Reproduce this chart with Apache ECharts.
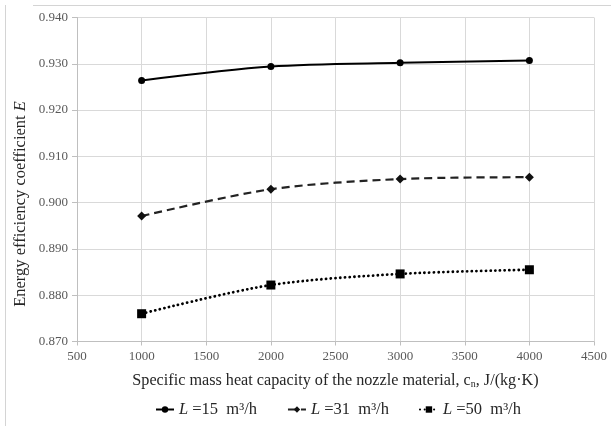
<!DOCTYPE html>
<html>
<head>
<meta charset="utf-8">
<script src="https://cdn.jsdelivr.net/npm/echarts@6/dist/echarts.min.js"></script>
<style>
  html, body { margin: 0; padding: 0; background: #fff; }
  #chart { width: 611px; height: 426px; }
</style>
</head>
<body>
<div id="chart"></div>
<script>
// Specific mass heat capacity of the nozzle material, J/(kg·K)
const capacities = [1000, 2000, 3000, 4000];
// Energy efficiency coefficient E for each air flow rate L
const effL15 = [0.9264, 0.9294, 0.9302, 0.9307];
const effL31 = [0.8971, 0.9029, 0.9051, 0.9055];
const effL50 = [0.8760, 0.8822, 0.8846, 0.8855];
const flowLabels = ['15', '31', '50'];

const xTicks = { min: 500, max: 4500, step: 500 };
const yTicks = { min: 0.870, max: 0.940, step: 0.010 };

const serif = '"Liberation Serif", "Times New Roman", serif';
const ink = '#262626';

function pairs(values) {
  return capacities.map((c, i) => [c, values[i]]);
}

const seriesNames = flowLabels.map(v => 'L' + v);

const chart = echarts.init(document.getElementById('chart'), null, { renderer: 'canvas' });

chart.setOption({
  backgroundColor: '#ffffff',
  animation: false,
  graphic: [
    // outer frame edges
    { type: 'line', shape: { x1: 5.5, y1: 5, x2: 5.5, y2: 426 }, style: { stroke: '#d4d4d4', lineWidth: 1 } },
    { type: 'line', shape: { x1: 33, y1: 5.5, x2: 611, y2: 5.5 }, style: { stroke: '#d4d4d4', lineWidth: 1 } },
    // vertical axis title
    {
      type: 'text', x: 21, y: 204, rotation: Math.PI / 2,
      style: {
        text: 'Energy efficiency coefficient {i|E}',
        align: 'center', verticalAlign: 'middle',
        font: '16.5px ' + serif, fill: ink,
        rich: { i: { fontFamily: serif, fontSize: 16.5, fontStyle: 'italic', fill: ink, color: ink } }
      }
    }
  ],
  grid: { left: 77, right: 17, top: 17.5, bottom: 84.5, containLabel: false },
  xAxis: {
    type: 'value',
    min: xTicks.min, max: xTicks.max, interval: xTicks.step,
    axisLine: { show: true, lineStyle: { color: '#bfbfbf', width: 1 } },
    axisTick: { show: true, length: 4, lineStyle: { color: '#bfbfbf' } },
    axisLabel: { color: '#595959', fontFamily: serif, fontSize: 13, margin: 9, formatter: v => String(v) },
    splitLine: { show: true, lineStyle: { color: '#d9d9d9', width: 1 } },
    name: 'Specific mass heat capacity of the nozzle material, c{sub|n}, J/(kg·K)',
    nameLocation: 'middle',
    nameGap: 31,
    nameTextStyle: {
      color: ink, fontFamily: serif, fontSize: 16.2,
      rich: { sub: { fontFamily: serif, fontSize: 10, color: ink, verticalAlign: 'bottom', padding: [7, 0, 0, 0] } }
    }
  },
  yAxis: {
    type: 'value',
    min: yTicks.min, max: yTicks.max, interval: yTicks.step,
    axisLine: { show: true, lineStyle: { color: '#bfbfbf', width: 1 } },
    axisTick: { show: true, length: 5, lineStyle: { color: '#bfbfbf' } },
    axisLabel: { color: '#595959', fontFamily: serif, fontSize: 13, margin: 9, formatter: v => v.toFixed(3) },
    splitLine: { show: true, lineStyle: { color: '#d9d9d9', width: 1 } },
  },
  legend: {
    top: 396,
    left: 150,
    itemGap: 30,
    itemWidth: 18,
    itemHeight: 8,
    data: seriesNames,
    formatter: name => '{i|L} =' + name.slice(1) + '  m³/h',
    textStyle: {
      color: ink, fontFamily: serif, fontSize: 16.5,
      rich: { i: { fontFamily: serif, fontSize: 16.5, fontStyle: 'italic', color: ink } }
    }
  },
  series: [
    {
      name: seriesNames[0], type: 'line', data: pairs(effL15), smooth: 0.3,
      symbol: 'circle', symbolSize: 7,
      itemStyle: { color: '#000000' },
      lineStyle: { color: '#000000', width: 2, type: 'solid' }
    },
    {
      name: seriesNames[1], type: 'line', data: pairs(effL31), smooth: 0.3,
      symbol: 'diamond', symbolSize: 9,
      itemStyle: { color: '#111111' },
      lineStyle: { color: '#222222', width: 2.2, type: [8, 5] }
    },
    {
      name: seriesNames[2], type: 'line', data: pairs(effL50), smooth: 0.3,
      symbol: 'rect', symbolSize: 9,
      itemStyle: { color: '#000000' },
      lineStyle: { color: '#000000', width: 2.8, type: [0.1, 4.6], cap: 'round' }
    }
  ]
});
</script>
</body>
</html>
